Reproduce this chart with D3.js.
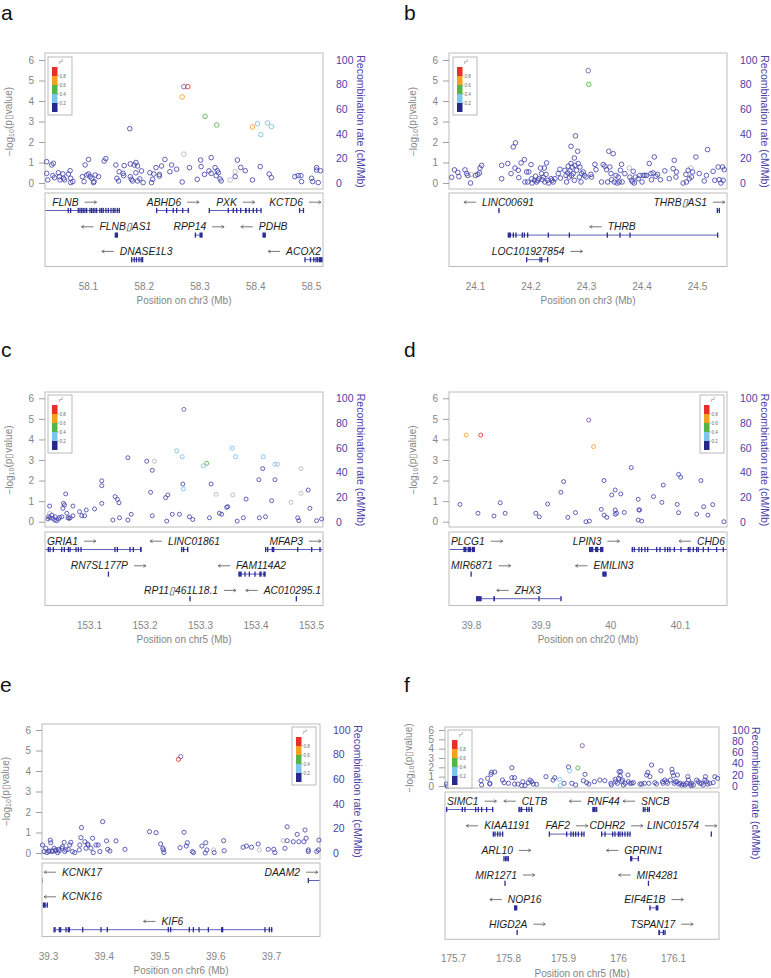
<!DOCTYPE html>
<html><head><meta charset="utf-8">
<script src="https://cdn.jsdelivr.net/npm/d3@7"></script>
<style>
body{margin:0;background:#fff}
svg{display:block;font-family:"Liberation Sans",Arial,Helvetica,sans-serif}
</style>
</head><body>
<svg id="c" width="771" height="978"></svg>
<script>
// ---------- DATA ----------
// LD classes: -1 = no LD info (grey), 0 = r2<0.2, 1 = 0.2-0.4, 2 = 0.4-0.6, 3 = 0.6-0.8, 4 = >=0.8, 5 = index SNP
const ldLabels = ["0.2","0.4","0.6","0.8"];
const yTicks = [0,1,2,3,4,5,6];
const recTicks = [0,20,40,60,80,100];

const ticksA = ["58.1","58.2","58.3","58.4","58.5"];
const ticksB = ["24.1","24.2","24.3","24.4","24.5"];
const ticksC = ["153.1","153.2","153.3","153.4","153.5"];
const ticksD = ["39.8","39.9","40","40.1"];
const ticksE = ["39.3","39.4","39.5","39.6","39.7"];
const ticksF = ["175.7","175.8","175.9","176","176.1"];

const xRangeA = [58.023, 58.5215];
const xRangeB = [24.0532, 24.554];
const xRangeC = [153.0207, 153.5216];
const xRangeD = [39.7684, 40.1675];
const xRangeE = [39.2892, 39.7879];
const xRangeF = [175.6855, 176.1836];

const snpsA = [[58.026,1.04,0],[58.026,0.47,0],[58.028,0.15,0],[58.035,0.88,0],[58.038,0.96,0],[58.037,0.36,0],[58.040,0.26,0],[58.047,0.50,0],[58.049,0.31,0],[58.050,0.15,0],[58.055,0.44,0],[58.056,0.23,0],[58.058,0.15,0],[58.065,0.44,0],[58.068,0.60,0],[58.069,0.23,0],[58.069,0.02,0],[58.073,0.07,0],[58.090,0.31,0],[58.093,0.07,0],[58.095,0.88,0],[58.098,0.39,0],[58.101,1.15,0],[58.101,0.44,0],[58.104,0.31,0],[58.107,0.23,0],[58.110,0.02,0],[58.111,0.07,0],[58.113,0.39,0],[58.119,0.31,0],[58.129,1.07,0],[58.132,1.19,0],[58.150,0.88,0],[58.152,0.23,0],[58.155,0.10,0],[58.156,0.55,0],[58.163,0.47,0],[58.164,0.36,0],[58.165,0.85,0],[58.175,2.65,0],[58.176,0.93,0],[58.176,0.31,0],[58.178,0.18,0],[58.180,0.10,0],[58.183,0.88,0],[58.186,0.50,0],[58.186,1.00,0],[58.189,0.83,0],[58.189,0.10,0],[58.193,0.20,0],[58.196,0.59,0],[58.199,0.02,0],[58.211,0.50,0],[58.214,0.02,0],[58.216,0.18,0],[58.218,0.44,0],[58.222,0.75,0],[58.228,0.42,0],[58.228,0.34,0],[58.232,0.83,0],[58.238,1.15,0],[58.247,0.55,0],[58.250,0.88,0],[58.259,0.67,0],[58.269,0.05,0],[58.272,1.41,-1],[58.282,0.75,0],[58.272,4.70,5],[58.279,4.70,4],[58.269,4.20,3],[58.296,0.18,0],[58.302,1.12,0],[58.303,0.80,0],[58.309,0.42,0],[58.317,0.59,0],[58.321,1.24,0],[58.321,0.47,0],[58.328,0.75,0],[58.330,0.36,0],[58.332,0.60,0],[58.334,0.50,0],[58.337,0.20,0],[58.339,0.10,0],[58.310,3.25,2],[58.331,2.83,2],[58.355,0.15,-1],[58.364,0.55,-1],[58.364,0.31,0],[58.368,1.12,0],[58.374,0.76,0],[58.382,0.60,0],[58.395,0.15,0],[58.395,2.73,3],[58.404,2.89,1],[58.410,2.36,1],[58.422,2.93,1],[58.429,2.75,1],[58.409,0.80,0],[58.425,0.44,0],[58.429,0.26,0],[58.471,0.31,0],[58.477,0.36,0],[58.482,0.36,0],[58.483,0.07,0],[58.501,0.23,0],[58.503,0.07,0],[58.510,0.75,0],[58.510,0.63,0],[58.513,0.02,0],[58.517,0.60,0]];

const snpsB = [[24.058,0.28,0],[24.063,0.64,0],[24.069,0.52,0],[24.071,0.31,0],[24.082,0.64,0],[24.085,0.46,0],[24.087,0.37,0],[24.092,0.00,0],[24.093,0.42,-1],[24.101,0.37,0],[24.105,0.42,0],[24.108,0.49,0],[24.109,0.73,0],[24.112,0.86,0],[24.148,0.21,0],[24.148,0.86,0],[24.159,0.95,0],[24.165,0.46,0],[24.169,1.76,0],[24.173,1.96,0],[24.172,0.73,0],[24.178,0.62,0],[24.179,0.26,0],[24.183,0.98,0],[24.189,1.14,0],[24.190,0.05,0],[24.193,0.54,0],[24.195,0.05,0],[24.197,0.54,0],[24.201,0.90,0],[24.202,0.21,0],[24.203,0.00,0],[24.207,0.13,0],[24.209,0.33,0],[24.211,0.05,0],[24.213,0.13,0],[24.215,0.21,0],[24.218,0.73,0],[24.220,0.46,0],[24.221,0.16,0],[24.223,0.29,0],[24.225,0.73,0],[24.226,0.05,0],[24.228,0.42,0],[24.229,0.98,0],[24.231,0.13,0],[24.233,0.00,0],[24.237,0.21,0],[24.239,0.13,0],[24.241,0.05,0],[24.244,0.21,0],[24.250,0.46,0],[24.253,0.67,0],[24.254,0.24,0],[24.262,0.62,0],[24.264,0.37,0],[24.265,0.05,0],[24.267,0.49,0],[24.268,0.82,0],[24.270,0.29,0],[24.271,0.59,0],[24.273,1.79,0],[24.273,0.95,0],[24.274,0.37,0],[24.275,0.78,0],[24.277,0.46,0],[24.279,1.22,0],[24.279,0.13,0],[24.280,0.86,0],[24.281,2.30,0],[24.283,0.62,0],[24.285,1.55,0],[24.286,0.95,0],[24.288,0.29,0],[24.289,0.78,0],[24.291,0.05,0],[24.292,0.46,0],[24.295,0.54,0],[24.297,0.37,0],[24.300,0.29,0],[24.304,5.48,5],[24.305,4.81,2],[24.309,0.42,0],[24.310,0.29,0],[24.316,0.91,0],[24.318,0.65,0],[24.328,0.05,0],[24.331,0.90,0],[24.334,0.82,0],[24.337,0.65,0],[24.339,0.05,0],[24.341,1.55,0],[24.343,0.78,0],[24.345,0.46,0],[24.346,0.16,0],[24.349,1.43,0],[24.351,0.05,0],[24.354,0.37,0],[24.356,0.00,0],[24.358,0.29,0],[24.360,0.05,0],[24.362,0.62,0],[24.364,0.91,0],[24.365,0.05,0],[24.370,0.46,0],[24.378,0.73,-1],[24.379,0.29,0],[24.382,0.13,0],[24.384,0.05,0],[24.385,0.57,0],[24.387,0.00,0],[24.389,0.29,0],[24.394,0.21,0],[24.397,0.37,0],[24.401,0.05,0],[24.403,0.37,0],[24.406,0.37,0],[24.409,0.37,0],[24.414,0.95,0],[24.417,0.46,0],[24.418,0.16,0],[24.421,0.49,0],[24.423,1.27,0],[24.426,0.33,0],[24.429,0.42,0],[24.434,0.16,0],[24.442,0.59,0],[24.450,0.21,0],[24.457,0.70,0],[24.459,1.11,0],[24.462,0.29,0],[24.463,0.54,0],[24.475,0.00,0],[24.480,0.42,0],[24.481,0.05,0],[24.484,0.62,0],[24.486,0.21,0],[24.489,0.73,-1],[24.490,0.29,0],[24.492,0.54,0],[24.498,1.27,0],[24.504,0.46,0],[24.513,0.10,0],[24.517,0.37,0],[24.519,1.63,0],[24.529,0.57,0],[24.532,0.13,0],[24.538,0.78,0],[24.540,0.16,0],[24.543,0.00,0],[24.546,0.78,0],[24.547,0.13,0],[24.549,0.65,0]];

const snpsC = [[153.271,5.46,5],[153.258,3.45,1],[153.268,3.16,1],[153.306,2.72,1],[153.358,3.58,1],[153.364,3.16,1],[153.414,3.16,1],[153.435,2.79,1],[153.270,1.59,1],[153.312,2.84,2],[153.218,2.94,-1],[153.440,2.79,-1],[153.482,2.58,-1],[153.029,0.41,-1],[153.329,1.33,-1],[153.359,1.30,-1],[153.464,0.94,-1],[153.482,1.38,-1],[153.170,3.11,0],[153.204,2.94,0],[153.214,2.50,0],[153.413,2.58,0],[153.406,2.04,0],[153.435,2.04,0],[153.123,1.99,0],[153.123,1.75,0],[153.269,1.83,0],[153.320,1.83,0],[153.029,0.76,0],[153.027,0.24,0],[153.026,0.13,0],[153.030,0.19,0],[153.033,0.32,0],[153.035,0.16,0],[153.038,0.08,0],[153.039,0.24,0],[153.042,0.05,0],[153.045,0.13,0],[153.047,0.21,0],[153.051,0.24,0],[153.053,0.65,0],[153.054,0.89,0],[153.056,0.81,0],[153.058,1.35,0],[153.060,0.41,0],[153.062,0.19,0],[153.064,0.16,0],[153.066,0.19,0],[153.071,0.76,0],[153.071,0.29,0],[153.083,0.49,0],[153.087,0.29,0],[153.092,0.29,0],[153.095,0.57,0],[153.110,0.62,0],[153.123,0.89,0],[153.143,0.08,0],[153.147,1.22,0],[153.151,1.09,0],[153.154,0.92,0],[153.155,0.19,0],[153.170,0.08,0],[153.176,0.36,0],[153.211,1.43,0],[153.214,0.29,0],[153.238,1.17,0],[153.242,1.30,0],[153.240,0.03,0],[153.250,0.36,0],[153.263,0.36,0],[153.281,0.24,0],[153.287,0.11,0],[153.317,0.19,0],[153.335,0.41,0],[153.339,0.36,0],[153.348,0.70,0],[153.350,0.73,0],[153.367,0.03,0],[153.378,0.19,0],[153.383,1.10,0],[153.407,0.19,0],[153.418,0.24,0],[153.429,1.02,0],[153.476,0.19,0],[153.478,0.05,0],[153.495,1.54,0],[153.498,0.65,0],[153.510,0.05,0],[153.519,0.13,0]];

const snpsD = [[39.793,4.21,3],[39.814,4.21,4],[39.969,4.94,5],[39.976,3.65,3],[40.030,2.63,0],[39.933,1.95,0],[39.991,2.00,0],[40.076,1.78,0],[40.098,2.30,0],[40.101,2.16,0],[40.130,2.00,0],[39.784,0.84,0],[39.810,0.41,0],[39.833,0.28,0],[39.842,0.92,0],[39.849,0.41,0],[39.893,0.41,0],[39.898,0.24,0],[39.910,0.86,0],[39.929,1.43,0],[39.939,0.21,0],[39.950,0.44,0],[39.965,0.00,0],[39.970,0.03,0],[39.987,0.60,0],[39.991,0.32,0],[39.995,0.21,0],[40.002,1.30,0],[40.007,1.54,0],[40.007,0.57,0],[40.007,0.36,0],[40.009,0.41,0],[40.015,1.35,0],[40.020,0.45,0],[40.040,1.09,0],[40.041,0.57,0],[40.042,0.57,0],[40.040,0.08,0],[40.045,0.03,0],[40.062,1.22,0],[40.074,0.94,0],[40.096,0.84,0],[40.098,0.44,0],[40.124,0.37,0],[40.134,0.73,0],[40.140,0.32,0],[40.147,0.83,0],[40.163,0.00,0]];

const snpsE = [[39.538,4.70,5],[39.534,4.57,4],[39.290,0.39,0],[39.293,0.07,0],[39.296,0.23,0],[39.298,0.02,0],[39.301,0.10,0],[39.302,0.07,0],[39.304,0.63,0],[39.305,0.50,0],[39.307,0.11,0],[39.308,0.07,0],[39.311,0.23,0],[39.313,0.11,0],[39.314,0.15,0],[39.317,0.02,0],[39.319,0.18,0],[39.320,0.10,0],[39.325,0.23,0],[39.326,0.31,0],[39.329,0.52,0],[39.330,0.07,0],[39.332,0.15,0],[39.336,0.18,0],[39.339,0.39,0],[39.341,0.52,0],[39.344,0.07,0],[39.348,0.02,0],[39.356,0.15,0],[39.357,0.39,0],[39.359,0.75,0],[39.360,1.24,0],[39.366,0.55,0],[39.368,0.23,0],[39.371,0.44,0],[39.372,0.39,0],[39.377,0.23,0],[39.380,0.72,0],[39.381,0.02,0],[39.386,0.39,0],[39.390,0.39,0],[39.393,0.07,0],[39.398,1.53,0],[39.405,0.59,0],[39.407,0.18,0],[39.411,0.10,0],[39.422,0.59,0],[39.438,0.18,0],[39.482,1.04,0],[39.494,0.99,0],[39.502,0.44,0],[39.506,0.23,0],[39.508,0.02,0],[39.507,0.15,0],[39.537,0.26,0],[39.544,1.01,0],[39.548,0.34,0],[39.550,0.50,0],[39.559,0.07,0],[39.561,0.02,0],[39.576,0.34,0],[39.582,0.00,0],[39.583,0.50,0],[39.585,0.15,0],[39.597,0.15,-1],[39.598,0.02,0],[39.615,0.60,0],[39.616,0.11,0],[39.650,0.28,0],[39.656,0.34,0],[39.665,0.28,0],[39.677,0.44,0],[39.679,0.15,-1],[39.695,0.18,0],[39.705,0.18,0],[39.707,0.02,0],[39.722,0.60,-1],[39.725,0.23,0],[39.729,1.28,0],[39.729,0.60,0],[39.740,0.55,0],[39.747,0.91,0],[39.750,0.55,0],[39.759,0.55,0],[39.761,1.12,0],[39.763,0.72,0],[39.767,0.15,0],[39.767,0.07,0],[39.782,0.07,0],[39.785,0.15,0],[39.786,0.63,0]];

const snpsF = [[175.688,0.21,0],[175.690,0.00,0],[175.751,0.57,0],[175.752,0.11,0],[175.763,0.82,0],[175.767,0.29,0],[175.767,0.21,0],[175.769,1.25,0],[175.770,1.46,0],[175.776,1.50,0],[175.790,0.64,0],[175.793,0.36,0],[175.801,0.29,0],[175.807,1.96,0],[175.807,0.89,0],[175.812,0.89,0],[175.812,0.21,0],[175.818,0.21,0],[175.825,0.04,0],[175.827,0.46,0],[175.831,0.04,0],[175.837,0.36,0],[175.840,0.64,0],[175.843,0.46,0],[175.846,0.21,0],[175.852,0.18,0],[175.869,1.00,0],[175.882,0.64,0],[175.885,0.89,0],[175.902,0.29,0],[175.910,2.04,0],[175.912,1.64,1],[175.894,0.71,1],[175.895,0.04,1],[175.927,1.93,2],[175.916,0.29,0],[175.923,0.11,0],[175.935,4.32,5],[175.937,0.57,0],[175.940,1.25,0],[175.943,0.36,0],[175.947,0.21,0],[175.957,0.46,0],[175.967,0.64,0],[175.976,0.57,0],[175.987,0.29,0],[175.988,0.11,0],[175.995,0.71,0],[175.996,0.46,0],[175.999,0.29,0],[176.001,0.82,0],[176.002,1.54,0],[176.004,1.07,0],[176.005,1.54,0],[176.007,0.46,0],[176.008,0.64,0],[176.010,0.11,0],[176.013,0.29,0],[176.018,1.18,0],[176.019,0.46,0],[176.022,0.29,0],[176.025,0.29,0],[176.028,0.36,0],[176.040,0.21,0],[176.043,0.21,0],[176.048,0.29,0],[176.052,1.18,0],[176.054,1.46,0],[176.056,0.29,0],[176.058,1.00,0],[176.061,2.25,0],[176.067,0.36,0],[176.070,0.21,0],[176.078,1.64,0],[176.081,0.46,0],[176.082,0.29,0],[176.085,0.64,0],[176.088,0.46,0],[176.090,0.29,0],[176.095,0.64,0],[176.098,1.79,0],[176.099,1.43,0],[176.101,1.11,0],[176.102,0.29,0],[176.104,0.46,0],[176.107,0.46,0],[176.108,1.18,0],[176.110,0.21,0],[176.113,0.29,0],[176.116,0.11,0],[176.119,0.21,0],[176.122,0.11,0],[176.125,0.29,0],[176.127,1.00,0],[176.128,0.64,0],[176.131,0.21,0],[176.133,0.04,0],[176.134,0.29,0],[176.137,0.11,0],[176.143,0.64,0],[176.146,0.46,0],[176.149,0.29,0],[176.152,0.29,0],[176.155,0.11,0],[176.158,0.64,0],[176.159,1.00,0],[176.161,0.46,0],[176.163,0.21,0],[176.167,0.29,0],[176.173,0.36,0],[176.176,1.00,0],[176.181,0.82,0]];

// genes: [name, start, end, strand, row, exons]
const genesA = [
 ["FLNB",57.994,58.1574,"+",0,[58.0647,58.069,58.0826,58.0857,58.0887,58.0916,58.0946,58.0977,58.1036,58.1066,58.1095,58.1126,58.1156,58.1215,58.1246,58.1274,58.1323,58.1365,58.1413,58.1454,58.1484,58.1526,58.1562]],
 ["ABHD6",58.2232,58.2817,"+",0,[58.2232,58.2411,58.253,58.2591,58.2699,58.2799]],
 ["PXK",58.3176,58.4116,"+",0,[58.3176,58.3517,58.3607,58.3667,58.3739,[58.3816,58.3847],58.3893,58.3965,58.4026,58.4103]],
 ["KCTD6",58.479,58.4874,"+",0,[58.4795,[58.4855,58.4874]]],
 ["FLNB\u25AFAS1",58.148,58.154,"-",1,[[58.148,58.154]]],
 ["RPP14",58.2919,58.3057,"+",1,[[58.2919,58.2935],[58.300,58.3057]]],
 ["PDHB",58.413,58.419,"-",1,[[58.413,58.419]]],
 ["DNASE1L3",58.1784,58.1981,"-",2,[58.1784,58.183,58.187,58.1915,58.1955,58.1981]],
 ["ACOX2",58.4892,58.533,"-",2,[58.4892,58.499,58.505,58.509,58.512,[58.514,58.522]]]
];
const genesB = [
 ["LINC00691",24.142,24.1444,"-",0,[[24.142,24.1444]]],
 ["THRB\u25AFAS1",24.5366,24.5402,"+",0,[24.5366,24.5402]],
 ["THRB",24.1589,24.5372,"-",1,[[24.1589,24.1649],24.1691,24.1739,24.1853,24.1889,24.1949,24.2321,24.27,24.3384,24.3613,24.3793,24.5372]],
 ["LOC101927854",24.1931,24.2309,"+",2,[24.1931,24.2171,24.2201,24.2309]]
];
const genesC = [
 ["GRIA1",152.869,153.1949,"+",0,[153.0267,153.0297,153.0357,153.0508,153.0556,153.0628,153.0658,153.0766,153.0808,153.0856,153.1468,153.1511,153.1739,153.1799,[153.1919,153.1949]]],
 ["LINC01861",153.267,153.279,"-",0,[153.267,153.2705,[153.2765,153.279]]],
 ["MFAP3",153.4183,153.53,"+",0,[153.4183,153.4219,[153.4291,153.434],153.476,153.5012,153.5162]],
 ["RN7SL177P",153.1348,153.135,"+",1,[[153.1348,153.1352]]],
 ["FAM114A2",153.3691,153.4183,"-",1,[[153.3691,153.3751],153.3811,153.3889,153.3991,[153.4069,153.4111],[153.4141,153.4183]]],
 ["RP11\u25AF461L18.1",153.2808,153.2832,"+",2,[[153.2808,153.2832]]],
 ["AC010295.1",153.473,153.4742,"-",2,[[153.473,153.4742]]]
];
const genesD = [
 ["PLCG1",39.766,39.8057,"+",0,[[39.789,39.7935],[39.795,39.800],[39.801,39.8057]]],
 ["LPIN3",39.9694,39.99,"+",0,[[39.9694,39.9756],[39.978,39.9828],[39.9852,39.99]]],
 ["CHD6",40.0306,40.247,"-",0,[[40.0306,40.0325],40.0344,40.0411,40.045,40.0498,40.0536,40.0665,40.0713,40.0785,40.0823,40.0856,40.0919,40.1014,40.112,40.1143,40.1191,40.1239,40.1263,40.1335,40.1407,40.1526,40.1622]],
 ["MIR6871",39.8,39.8003,"+",1,[[39.8,39.8003]]],
 ["EMILIN3",39.9885,39.9947,"-",1,[[39.9885,39.9947]]],
 ["ZHX3",39.8072,39.9301,"-",2,[[39.8072,39.8153],[39.8321,39.8344],39.8976,39.9292]]
];
const genesE = [
 ["KCNK17",39.2885,39.2897,"-",0,[[39.2885,39.2897]]],
 ["DAAM2",39.767,39.9,"+",0,[39.767]],
 ["KCNK16",39.2904,39.2988,"-",1,[[39.2904,39.296],39.2988]],
 ["KIF6",39.3108,39.703,"-",2,[39.3108,39.3126,39.3203,39.3227,39.3323,39.3365,39.3383,39.3622,39.3951,39.4064,39.5158,39.52,39.5535,39.5607,39.5709,39.5876,39.6115,39.6133,39.6892,39.697,39.7012]]
];
const genesF = [
 ["SIMC1",175.6885,175.7733,"+",0,[175.6885,175.717,175.7218,175.7412,175.7461,175.7521,175.7612,175.7721]],
 ["CLTB",175.82,175.8442,"-",0,[175.82,175.8218,175.8248,175.8339,175.8382,175.843]],
 ["RNF44",175.9533,175.9612,"-",0,[[175.9533,175.9594],175.9612]],
 ["SNCB",176.046,176.057,"-",0,[176.046,176.0491,176.0539,176.057]],
 ["KIAA1191",175.7733,175.7903,"-",1,[175.7733,175.7764,175.7812,175.7855,175.7903]],
 ["FAF2",175.8752,175.9382,"+",1,[175.8752,175.9067,175.9145,175.9188,175.923,175.9279,175.9339,175.9382]],
 ["CDHR2",175.9703,176.0236,"+",1,[175.9703,175.9764,175.9903,175.9945,176.0006,176.0036,176.0079,176.0127,176.0176,176.0218]],
 ["LINC01574",176.169,176.1703,"+",1,[[176.169,176.1703]]],
 ["ARL10",175.7927,175.8006,"+",2,[175.7927,175.7958,175.7982,175.8006]],
 ["GPRIN1",176.0218,176.0382,"-",2,[[176.0218,176.0261],176.037]],
 ["MIR1271",175.7945,175.7948,"+",3,[[175.7945,175.7948]]],
 ["MIR4281",176.0552,176.0555,"-",3,[[176.0552,176.0555]]],
 ["NOP16",175.8109,175.817,"-",4,[[175.8109,175.817]]],
 ["EIF4E1B",176.057,176.0733,"+",4,[176.0582,[176.0685,176.0733]]],
 ["HIGD2A",175.8158,175.8176,"+",5,[[175.8158,175.8176]]],
 ["TSPAN17",176.0733,176.0855,"+",5,[[176.0733,176.0764],176.0824,176.0855]]
];

// ---------- STYLE ----------
const ldColors = ["#27298a","#7cc5ec","#54b648","#f4a21e","#e8302a"];
const pointColors = {"-1":"#b5b5b5","0":"#4646ad","1":"#74bfea","2":"#4fb244","3":"#f0a020","4":"#e3302a","5":"#7a55b0"};
const axisGrey = "#858585";
const recColor = "#4b41aa";

// ---------- LAYOUT ----------
const panels = [
 {id:"a",snps:snpsA,genes:genesA,ticks:ticksA,xr:xRangeA,chr:"chr3",x0:45,x1:323,top:53,y6:60,y0:183,bottom:189,gTop:193,rows:3,leg:[48,57],lx:1,ly:20,pr:2.3},
 {id:"b",snps:snpsB,genes:genesB,ticks:ticksB,xr:xRangeB,chr:"chr3",x0:449,x1:727,top:53,y6:60,y0:183,bottom:189,gTop:193,rows:3,leg:[453,57],lx:404,ly:20,pr:2.3},
 {id:"c",snps:snpsC,genes:genesC,ticks:ticksC,xr:xRangeC,chr:"chr5",x0:45,x1:323,top:392,y6:398.3,y0:521.7,bottom:527,gTop:532,rows:3,leg:[48,395],lx:1,ly:357,pr:2.0},
 {id:"d",snps:snpsD,genes:genesD,ticks:ticksD,xr:xRangeD,chr:"chr20",x0:449,x1:727,top:392,y6:398.3,y0:521.7,bottom:527,gTop:532,rows:3,leg:[700,395],lx:404,ly:357,pr:2.0},
 {id:"e",snps:snpsE,genes:genesE,ticks:ticksE,xr:xRangeE,chr:"chr6",x0:42,x1:320,top:724,y6:730,y0:853,bottom:859,gTop:863,rows:3,leg:[292,727],lx:0,ly:692,pr:2.1},
 {id:"f",snps:snpsF,genes:genesF,ticks:ticksF,xr:xRangeF,chr:"chr5",x0:445,x1:719,top:727,y6:730,y0:786,bottom:788,gTop:792,rows:6,leg:[448,730],lx:404,ly:692,pr:2.1,recTop:true}
];

const svg = d3.select("#c");
const defs = svg.append("defs");

function drawPanel(p){
  const g = svg.append("g");
  const x = d3.scaleLinear().domain(p.xr).range([p.x0,p.x1]);
  const y = d3.scaleLinear().domain([0,6]).range([p.y0,p.y6]);
  const rec = d3.scaleLinear().domain([0,100]).range([p.y0,p.y6]);
  const gBottom = p.gTop + 17.5 + (p.rows-1)*24.6 + 6.8;

  // panel letter
  g.append("text").attr("x",p.lx).attr("y",p.ly).attr("font-size",21).attr("fill","#111").text(p.id);

  // plot box
  g.append("rect").attr("x",p.x0).attr("y",p.top).attr("width",p.x1-p.x0).attr("height",p.bottom-p.top)
    .attr("fill","none").attr("stroke","#bcbcbc").attr("stroke-width",1);

  // left axis
  const la = g.append("g").attr("transform",`translate(${p.x0},0)`)
    .call(d3.axisLeft(y).tickValues(yTicks).tickSize(6).tickPadding(5).tickFormat(d3.format("d")));
  la.select(".domain").remove();
  la.selectAll("line").attr("stroke","#a0a0a0");
  la.selectAll("text").attr("fill",axisGrey).attr("font-size",10).attr("font-family","Liberation Sans, Arial, sans-serif");

  // right axis
  const ra = g.append("g").attr("transform",`translate(${p.x1},0)`)
    .call(d3.axisRight(rec).tickValues(recTicks).tickSize(0).tickPadding(13));
  ra.select(".domain").remove();
  ra.selectAll("text").attr("fill",recColor).attr("font-size",10.5).attr("font-family","Liberation Sans, Arial, sans-serif");

  // axis titles
  const midY = (p.y0+p.y6)/2;
  const lt = g.append("text").attr("transform",`translate(${p.x0-36},${midY}) rotate(-90)`)
    .attr("text-anchor","middle").attr("dy","0.35em").attr("font-size",10).attr("fill",axisGrey);
  lt.append("tspan").text("\u2212log");
  lt.append("tspan").attr("font-size",7).attr("dy","0.25em").text("10");
  lt.append("tspan").attr("dy","-0.18em").text("(p\u25AFvalue)");

  const rt = g.append("text").attr("font-size",10.5).attr("fill",recColor).attr("dy","0.35em")
    .text("Recombination rate (cM/Mb)");
  if(p.recTop){
    rt.attr("transform",`translate(${p.x1+37},${p.top}) rotate(90)`).attr("text-anchor","start");
  } else {
    rt.attr("transform",`translate(${p.x1+37.5},${midY}) rotate(90)`).attr("text-anchor","middle");
  }

  // points
  const order = [-1,0,1,2,3,4,5];
  const pts = p.snps.slice().sort((a,b)=>order.indexOf(a[2])-order.indexOf(b[2]));
  g.append("g").selectAll("circle").data(pts).join("circle")
    .attr("cx",d=>x(d[0])).attr("cy",d=>y(d[1])).attr("r",p.pr)
    .attr("fill","none").attr("stroke",d=>pointColors[d[2]]).attr("stroke-width",0.85);

  // legend
  const [lx,ly] = p.leg;
  const lg = g.append("g");
  lg.append("rect").attr("x",lx).attr("y",ly).attr("width",24).attr("height",58)
    .attr("fill","#fff").attr("stroke","#a8a8a8").attr("stroke-width",0.8);
  const rt2 = lg.append("text").attr("x",lx+13).attr("y",ly+7).attr("font-size",5.5).attr("font-style","italic").attr("fill","#666").attr("text-anchor","middle");
  rt2.append("tspan").text("r");
  rt2.append("tspan").attr("font-size",3.5).attr("dy","-2").text("2");
  const barY = d3.scaleLinear().domain([0,5]).range([ly+55,ly+10]);
  lg.selectAll("rect.bar").data(d3.range(5)).join("rect").attr("class","bar")
    .attr("x",lx+4).attr("y",i=>barY(i+1)).attr("width",5.5).attr("height",i=>barY(i)-barY(i+1))
    .attr("fill",i=>ldColors[i]);
  ldLabels.forEach((t,i)=>{
    const yy = barY(i+1);
    lg.append("line").attr("x1",lx+9.5).attr("x2",lx+11).attr("y1",yy).attr("y2",yy).attr("stroke","#777").attr("stroke-width",0.5);
    lg.append("text").attr("x",lx+11.5).attr("y",yy+1.5).attr("font-size",4.5).attr("fill","#666").text(t);
  });

  // gene box
  g.append("rect").attr("x",p.x0).attr("y",p.gTop).attr("width",p.x1-p.x0).attr("height",gBottom-p.gTop)
    .attr("fill","none").attr("stroke","#bcbcbc").attr("stroke-width",1);
  const cid = "clip"+p.id;
  defs.append("clipPath").attr("id",cid).append("rect")
    .attr("x",p.x0+0.5).attr("y",p.gTop).attr("width",p.x1-p.x0-1).attr("height",gBottom-p.gTop);
  const gg = g.append("g").attr("clip-path",`url(#${cid})`);
  const lab = g.append("g");
  p.genes.forEach(ge=>{
    const [name,s,e,strand,row,exons] = ge;
    const ry = p.gTop + 17.5 + row*24.6;
    gg.append("line").attr("x1",x(s)).attr("x2",x(e)).attr("y1",ry).attr("y2",ry)
      .attr("stroke","#4c4cb4").attr("stroke-width",0.9);
    exons.forEach(ex=>{
      const a = Array.isArray(ex)?ex[0]:ex, b = Array.isArray(ex)?ex[1]:ex;
      const xa = x(a), xb = x(b);
      const w = Math.max(1.3, xb-xa);
      gg.append("rect").attr("x",(xa+xb)/2 - w/2).attr("y",ry-2.6).attr("width",w).attr("height",5.2).attr("fill","#2d2d96");
    });
    // label
    const t = lab.append("text").attr("y",ry-4.8).attr("font-size",10.3).attr("font-style","italic").attr("fill","#1c1c1c").text(name);
    const tw = t.node().getComputedTextLength();
    const gap = 6, al = 12;
    const total = tw + gap + al;
    let left = (x(s)+x(e))/2 - total/2;
    left = Math.max(p.x0+2, Math.min(p.x1-2-total, left));
    const ay = ry-8.3;
    let ax1, ax2;
    if(strand==="+"){
      t.attr("x",left);
      ax1 = left+tw+gap; ax2 = ax1+al;
    } else {
      t.attr("x",left+al+gap);
      ax1 = left+al; ax2 = left;
    }
    const dir = ax2>ax1?1:-1;
    lab.append("line").attr("x1",ax1).attr("x2",ax2).attr("y1",ay).attr("y2",ay).attr("stroke","#555").attr("stroke-width",0.8);
    lab.append("path").attr("d",`M${ax2-dir*2.6},${ay-1.6}L${ax2},${ay}L${ax2-dir*2.6},${ay+1.6}`)
      .attr("fill","none").attr("stroke","#555").attr("stroke-width",0.7);
  });

  // x axis
  const xa = g.append("g").attr("transform",`translate(0,${gBottom})`)
    .call(d3.axisBottom(x).tickValues(p.ticks.map(Number)).tickFormat((d,i)=>p.ticks[i]).tickSize(0).tickPadding(16));
  xa.select(".domain").remove();
  xa.selectAll("text").attr("fill",axisGrey).attr("font-size",10).attr("font-family","Liberation Sans, Arial, sans-serif");
  g.append("text").attr("x",(p.x0+p.x1)/2).attr("y",gBottom+37.5).attr("text-anchor","middle")
    .attr("font-size",10).attr("fill",axisGrey).text(`Position on ${p.chr} (Mb)`);
}
panels.forEach(drawPanel);
</script>
</body></html>
